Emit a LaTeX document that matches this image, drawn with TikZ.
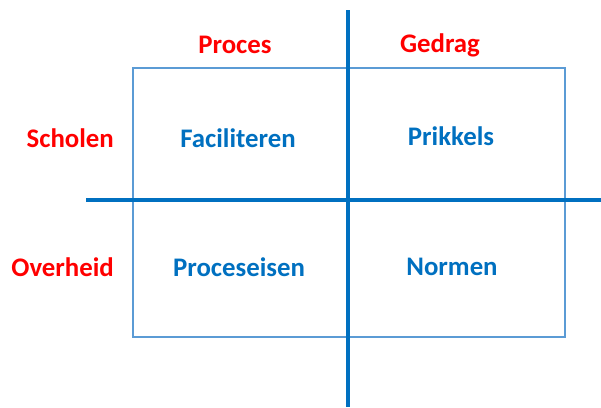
\documentclass[tikz,border=0pt]{standalone}
\usepackage{fontspec}
\setmainfont{Carlito}
\definecolor{hdr}{HTML}{FF0000}
\definecolor{cell}{HTML}{0070C0}
\definecolor{boxc}{HTML}{5B9BD5}
\begin{document}
\begin{tikzpicture}[x=1pt,y=-1pt,
  hdrtxt/.style={text=hdr,font=\fontsize{26.8}{30}\selectfont\bfseries,inner sep=0pt},
  celltxt/.style={text=cell,font=\fontsize{26.8}{30}\selectfont\bfseries,inner sep=0pt},
  axis/.style={draw=cell,line width=3.6pt},
  frame/.style={draw=boxc,line width=1.5pt}]
\useasboundingbox (0,0) rectangle (601,407);
\draw[frame] (133,68) rectangle (565,337);
\coordinate (vtop) at (348,10);
\coordinate (vbot) at (348,407);
\coordinate (hl) at (86,200);
\coordinate (hr) at (601,200);
\draw[axis] (vtop) -- (vbot);
\draw[axis] (hl) -- (hr);
\node[hdrtxt] (proces) at (235,45) {Proces};
\node[hdrtxt] (gedrag) at (440,45) {Gedrag};
\node[hdrtxt,anchor=east] (scholen) at (114,138) {Scholen};
\node[hdrtxt,anchor=east] (overheid) at (114,267) {Overheid};
\node[celltxt] (fac) at (238,138) {Faciliteren};
\node[celltxt] (prik) at (451,136) {Prikkels};
\node[celltxt] (proc) at (239,267) {Proceseisen};
\node[celltxt] (norm) at (452,267) {Normen};
\end{tikzpicture}
\end{document}
